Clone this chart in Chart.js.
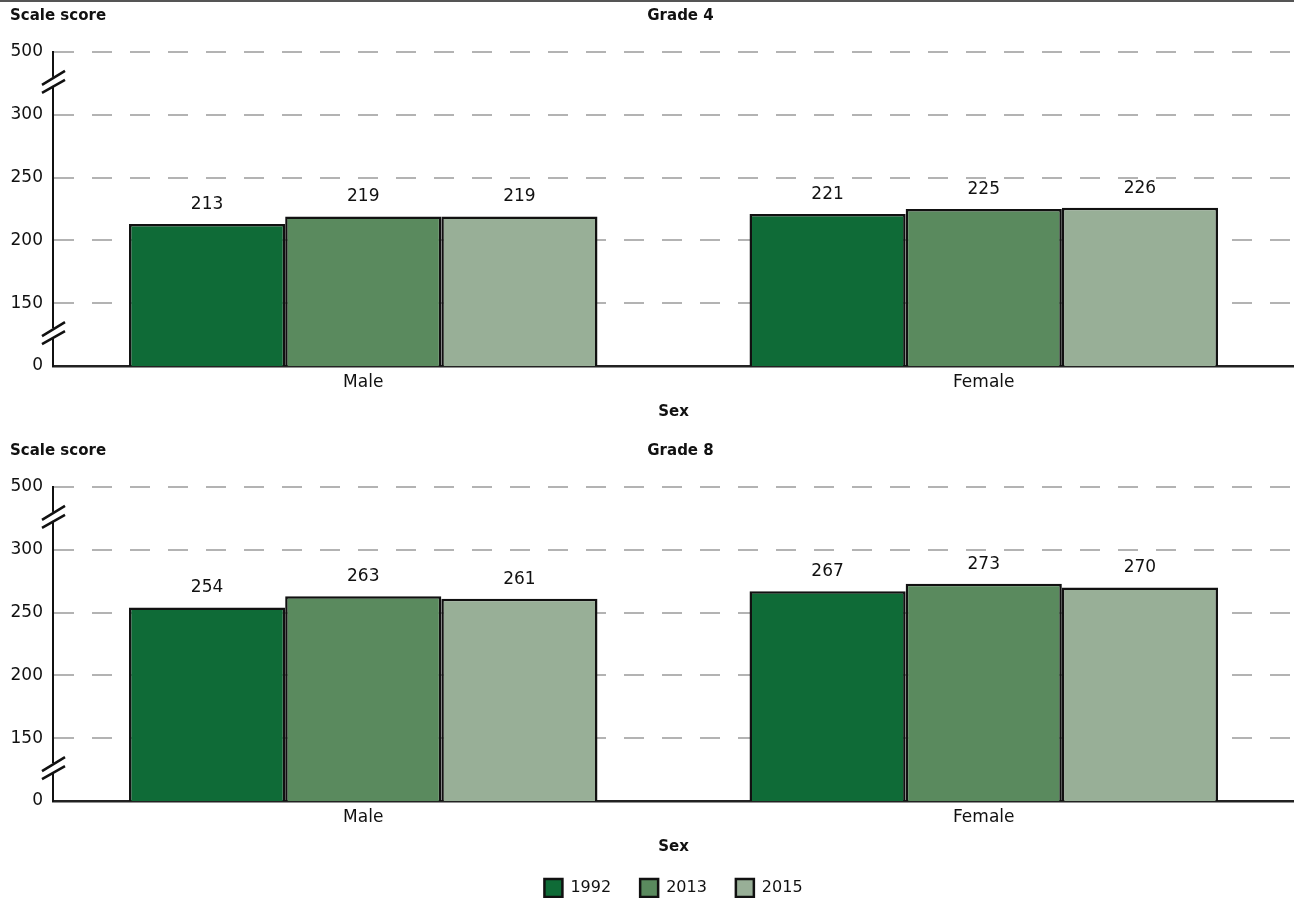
<!DOCTYPE html>
<html>
<head>
<meta charset="utf-8">
<script src="https://cdn.jsdelivr.net/npm/chart.js@4.4.0/dist/chart.umd.min.js"></script>
<style>
body { margin: 0; background: #fff; overflow: hidden; }
#topline { position: absolute; left: 0; top: 0; width: 1294px; height: 2px; background: #555; }
.box { position: absolute; left: 0; width: 1294px; }
#g4 { top: 0; height: 425px; }
#g8 { top: 435px; height: 463px; }
</style>
</head>
<body>
<div id="topline"></div>
<div class="box" id="g4"><canvas id="grade4"></canvas></div>
<div class="box" id="g8"><canvas id="grade8"></canvas></div>
<script>
var categories = ["Male", "Female"];
var years = ["1992", "2013", "2015"];
var grade4_1992 = [213, 221];
var grade4_2013 = [219, 225];
var grade4_2015 = [219, 226];
var grade8_1992 = [254, 267];
var grade8_2013 = [263, 273];
var grade8_2015 = [261, 270];
// axis is broken: 0 and 500 sit one step outside 150..300
var tickValues = [100, 150, 200, 250, 300, 350];
var tickLabels = ["0", "150", "200", "250", "300", "500"];
var colors = ["#0f6b37", "#5a8a5e", "#98af97"];

var FONT = "'DejaVu Sans'";

var extras = {
  id: 'extras',
  afterDraw: function (chart, args, opts) {
    var ctx = chart.ctx, area = chart.chartArea, y = chart.scales.y;
    var mid = (area.left + area.right) / 2;
    ctx.save();
    ctx.fillStyle = '#111';
    ctx.font = 'bold 15px ' + FONT;
    ctx.textBaseline = 'middle';
    ctx.textAlign = 'left';
    ctx.fillText('Scale score', 10, 16);
    ctx.textAlign = 'center';
    ctx.fillText(opts.title, mid + 7, 16);
    ctx.fillText('Sex', mid, area.bottom + 46);

    // values above bars
    ctx.font = '17px ' + FONT;
    ctx.textBaseline = 'bottom';
    chart.data.datasets.forEach(function (ds, i) {
      chart.getDatasetMeta(i).data.forEach(function (bar, j) {
        ctx.fillText(ds.data[j], bar.x, bar.y - 11);
      });
    });

    // break marks on the y axis
    [325, 125].forEach(function (v) {
      var py = y.getPixelForValue(v) - 1.5, px = area.left;
      ctx.fillStyle = '#fff';
      ctx.fillRect(px - 2, py - 5, 4, 9);
      ctx.strokeStyle = '#111';
      ctx.lineWidth = 2.5;
      ctx.beginPath();
      ctx.moveTo(px - 11, py + 3); ctx.lineTo(px + 12, py - 11);
      ctx.moveTo(px - 11, py + 11); ctx.lineTo(px + 12, py - 2);
      ctx.stroke();
    });
    ctx.restore();
  }
};

function makeChart(id, title, a, b, c, showLegend, xHeight) {
  var sets = [a, b, c];
  return new Chart(document.getElementById(id).getContext('2d'), {
    type: 'bar',
    data: {
      labels: categories,
      datasets: years.map(function (yr, i) {
        return {
          label: yr,
          data: sets[i],
          backgroundColor: colors[i],
          borderColor: '#111',
          borderWidth: 2.5,
          barPercentage: 1,
          categoryPercentage: 0.755
        };
      })
    },
    options: {
      responsive: true,
      maintainAspectRatio: false,
      animation: false,
      layout: { padding: { top: 52, left: 0, right: 0, bottom: 0 } },
      plugins: {
        tooltip: { enabled: false },
        legend: {
          display: showLegend,
          position: 'bottom',
          fullSize: false,
          maxHeight: 48,
          labels: { boxWidth: 18, boxHeight: 18, padding: 29, color: '#111', font: { family: FONT, size: 16 } }
        },
        extras: { title: title }
      },
      scales: {
        x: {
          grid: { display: false, drawTicks: false },
          border: { color: '#222', width: 2.5 },
          ticks: { color: '#111', padding: 6, font: { family: FONT, size: 17 } },
          afterFit: function (s) { s.height = xHeight; }
        },
        y: {
          min: 100,
          max: 350,
          grid: {
            drawTicks: false,
            lineWidth: 2,
            color: function (c) { return c.tick && c.tick.value === 100 ? 'rgba(0,0,0,0)' : '#b3b3b3'; }
          },
          border: { color: '#111', width: 2, dash: [20, 18] },
          ticks: {
            stepSize: 50,
            padding: 10,
            color: '#111',
            font: { family: FONT, size: 17 },
            callback: function (v) { return tickLabels[tickValues.indexOf(v)]; }
          },
          afterFit: function (s) { s.width = 53; }
        }
      }
    },
    plugins: [extras]
  });
}

makeChart('grade4', 'Grade 4', grade4_1992, grade4_2013, grade4_2015, false, 59);
makeChart('grade8', 'Grade 8', grade8_1992, grade8_2013, grade8_2015, true, 49);
</script>
</body>
</html>
